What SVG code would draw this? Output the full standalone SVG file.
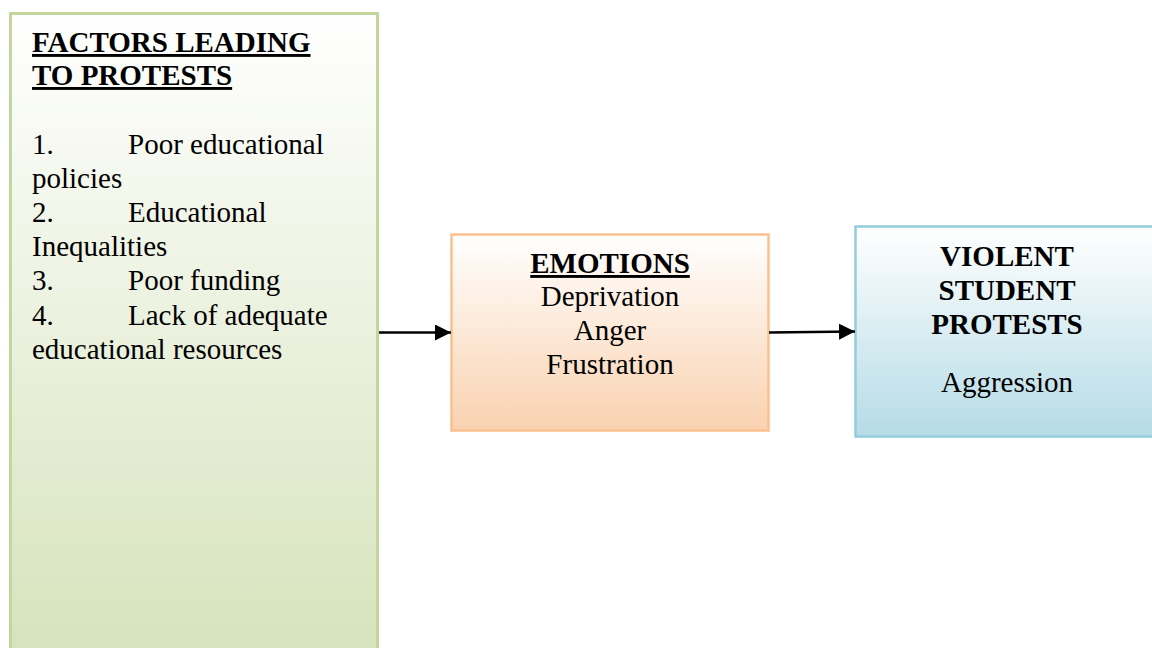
<svg xmlns="http://www.w3.org/2000/svg" width="1152" height="648" viewBox="0 0 1152 648">
<style>
text{font-family:"Liberation Serif","Times New Roman",serif;font-size:29px;fill:#000}
.b{font-weight:bold}
.u{text-decoration:underline}
.c{text-anchor:middle}
.conn{stroke:#000;stroke-width:2.5;fill:none}
</style>
<defs>
<linearGradient id="gG" x1="0" y1="0" x2="0" y2="1">
<stop offset="0" stop-color="#ffffff"/>
<stop offset="1" stop-color="#d5e2ba"/>
</linearGradient>
<linearGradient id="gO" x1="0" y1="0" x2="0" y2="1">
<stop offset="0" stop-color="#ffffff"/>
<stop offset="1" stop-color="#fad2b0"/>
</linearGradient>
<linearGradient id="gB" x1="0" y1="0" x2="0" y2="1">
<stop offset="0" stop-color="#ffffff"/>
<stop offset="1" stop-color="#b5dbe6"/>
</linearGradient>
<marker id="ah" viewBox="0 0 10 10" refX="10" refY="5" markerWidth="16" markerHeight="16" markerUnits="userSpaceOnUse" orient="auto">
<path d="M0,0 L10,5 L0,10 z" fill="#000"/>
</marker>
</defs>
<rect width="1152" height="648" fill="#fff"/>
<g id="factors">
<rect x="10.5" y="13.5" width="367" height="660" fill="url(#gG)" stroke="#c3d69b" stroke-width="3"/>
<text x="32" y="52" class="b u">FACTORS LEADING</text>
<text x="32" y="85" class="b u">TO PROTESTS</text>
<text x="32" y="154">1.</text><text x="128" y="154">Poor educational</text>
<text x="32" y="188">policies</text>
<text x="32" y="222">2.</text><text x="128" y="222">Educational</text>
<text x="32" y="256">Inequalities</text>
<text x="32" y="290">3.</text><text x="128" y="290">Poor funding</text>
<text x="32" y="325">4.</text><text x="128" y="325">Lack of adequate</text>
<text x="32" y="359">educational resources</text>
</g>
<g id="emotions">
<rect x="451.5" y="234.5" width="317" height="196" fill="url(#gO)" stroke="#fac08f" stroke-width="2.5"/>
<text x="610" y="273" class="b u c">EMOTIONS</text>
<text x="610" y="306" class="c">Deprivation</text>
<text x="610" y="340" class="c">Anger</text>
<text x="610" y="374" class="c">Frustration</text>
</g>
<g id="violent">
<rect x="855.5" y="226.5" width="305" height="210" fill="url(#gB)" stroke="#93cddd" stroke-width="2.5"/>
<text x="1007" y="266" class="b c">VIOLENT</text>
<text x="1007" y="300" class="b c">STUDENT</text>
<text x="1007" y="334" class="b c">PROTESTS</text>
<text x="1007" y="392" class="c">Aggression</text>
</g>
<g id="connectors">
<line x1="379" y1="332.5" x2="451" y2="332.5" class="conn" marker-end="url(#ah)"/>
<line x1="769" y1="332.5" x2="855" y2="331.5" class="conn" marker-end="url(#ah)"/>
</g>
</svg>
